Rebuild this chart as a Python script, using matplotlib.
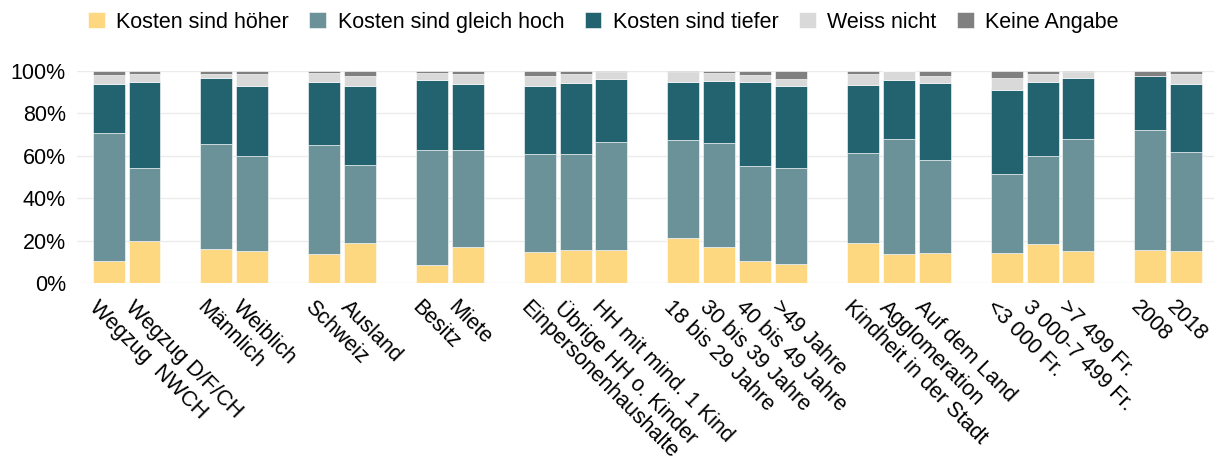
import matplotlib
matplotlib.use("Agg")
import matplotlib.pyplot as plt
import matplotlib.transforms as mtransforms
import numpy as np

plt.rcParams["font.family"] = ["Liberation Sans", "DejaVu Sans"]

# categories, one empty slot between the groups
categories = ["Wegzug  NWCH", "Wegzug D/F/CH",
              "Männlich", "Weiblich",
              "Schweiz", "Ausland",
              "Besitz", "Miete",
              "Einpersonenhaushalte", "Übrige HH o. Kinder", "HH mit mind. 1 Kind",
              "18 bis 29 Jahre", "30 bis 39 Jahre", "40 bis 49 Jahre", ">49 Jahre",
              "Kindheit in der Stadt", "Agglomeration", "Auf dem Land",
              "<3 000 Fr.", "3 000-7 499 Fr.", ">7 499 Fr.",
              "2008", "2018"]
group_sizes = [2, 2, 2, 2, 3, 4, 3, 3, 2]

series = ["Kosten sind höher", "Kosten sind gleich hoch", "Kosten sind tiefer",
          "Weiss nicht", "Keine Angabe"]

hoeher = [10.3, 19.9, 16.0, 14.9, 13.9, 18.8, 8.3, 17.1, 14.7, 15.7, 15.7,
          21.0, 16.9, 10.3, 8.9, 18.7, 13.5, 14.1, 14.1, 18.5, 15.2, 15.4, 15.2]
gleich = [60.5, 34.5, 49.4, 45.0, 51.3, 36.8, 54.4, 45.4, 46.3, 45.1, 50.9,
          46.4, 49.1, 44.9, 45.5, 42.6, 54.4, 43.9, 37.3, 41.5, 52.7, 56.9, 46.7]
tiefer = [22.9, 40.1, 31.0, 32.9, 29.5, 37.0, 33.1, 31.4, 31.8, 33.4, 29.5,
          27.3, 29.0, 39.6, 38.5, 32.1, 27.6, 36.0, 39.5, 34.8, 28.8, 25.3, 32.0]
weiss = [4.4, 3.9, 2.0, 5.6, 4.0, 5.0, 2.9, 4.7, 4.8, 4.2, 3.3,
         4.8, 3.9, 3.2, 3.2, 5.2, 4.2, 3.3, 5.7, 3.5, 2.8, 0.0, 4.4]
keine = [1.9, 1.6, 1.6, 1.6, 1.3, 2.4, 1.3, 1.4, 2.4, 1.6, 0.6,
         0.5, 1.1, 2.0, 3.9, 1.4, 0.3, 2.7, 3.4, 1.7, 0.5, 2.4, 1.7]

colors = ["#FED880", "#6A9298", "#23636F", "#D9D9D9", "#808080"]

# x positions with a gap between groups
pos = []
x = 0
for g in group_sizes:
    for i in range(g):
        pos.append(x)
        x += 1
    x += 1
pos = np.array(pos)

fig = plt.figure(figsize=(12.14, 4.61), dpi=100)
ax = fig.add_axes([0.0634, 0.386, 0.9374, 0.4607])

bottom = np.zeros(len(categories))
for vals, col, name in zip([hoeher, gleich, tiefer, weiss, keine], colors, series):
    ax.bar(pos, vals, width=0.89, bottom=bottom, color=col, label=name,
           edgecolor="white", linewidth=0.4, zorder=3)
    bottom += np.array(vals)

ax.set_xlim(-0.88, 30.8)
ax.set_ylim(0, 100)
ax.set_yticks([0, 20, 40, 60, 80, 100])
ax.set_yticklabels(["0%", "20%", "40%", "60%", "80%", "100%"], fontsize=15.5)
ax.yaxis.grid(True, color="#EBEBEB", linewidth=1, zorder=0)
ax.tick_params(axis="y", length=0, pad=8)
ax.tick_params(axis="x", length=0, pad=10)
for s in ax.spines.values():
    s.set_visible(False)

ax.set_xticks(pos)
ax.set_xticklabels(categories, fontsize=15.5, rotation=-45, ha="left", va="top",
                   rotation_mode="anchor")
offset = mtransforms.ScaledTranslation(-0.09, 0.0, fig.dpi_scale_trans)
for lab in ax.get_xticklabels():
    lab.set_transform(lab.get_transform() + offset)

fig.legend(loc="upper center", bbox_to_anchor=(0.497, 1.017), ncol=5, frameon=False,
           fontsize=15.5, handlelength=0.78, handleheight=0.78, columnspacing=0.95,
           handletextpad=0.53)

fig.savefig("out.png", dpi=100)
